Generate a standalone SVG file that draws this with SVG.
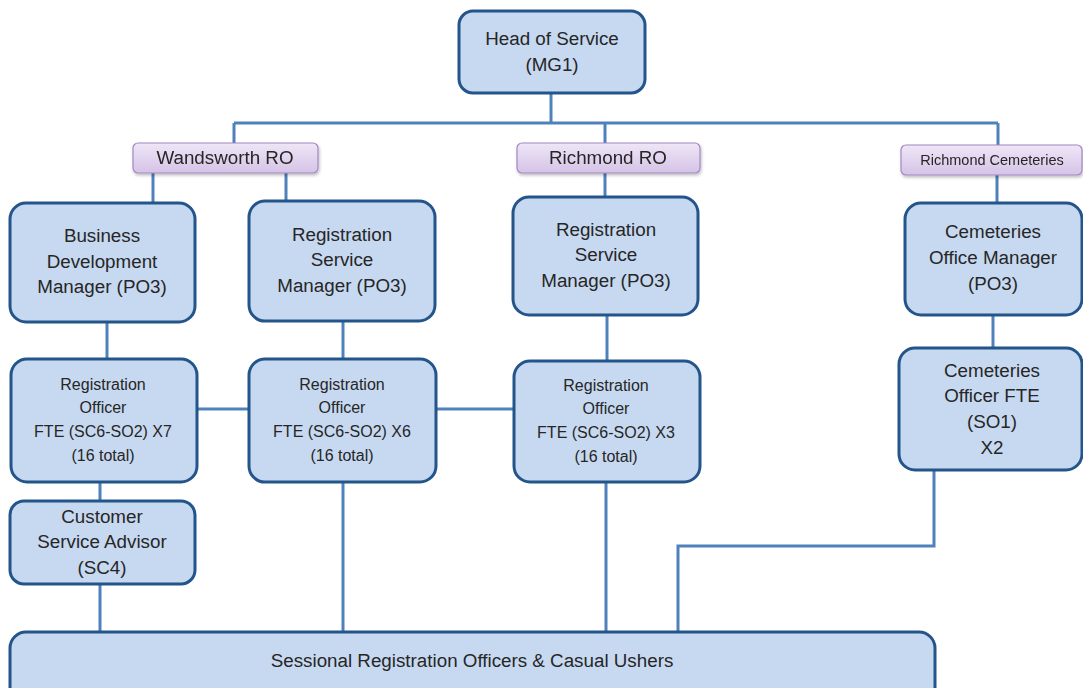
<svg xmlns="http://www.w3.org/2000/svg" width="1083" height="688" viewBox="0 0 1083 688">
<defs>
<linearGradient id="pg" x1="0" y1="0" x2="0" y2="1">
<stop offset="0" stop-color="#EFE6F7"/>
<stop offset="1" stop-color="#D5C3E6"/>
</linearGradient>
<filter id="sh" x="-10%" y="-20%" width="120%" height="160%">
<feDropShadow dx="1" dy="2" stdDeviation="1.5" flood-color="#000" flood-opacity="0.25"/>
</filter>
</defs>
<style>
.box{fill:#C6D9F1;stroke:#23548A;stroke-width:3}
.tag{fill:url(#pg);stroke:#A287C4;stroke-width:1.2}
.ln{fill:none;stroke:#4F81BD;stroke-width:3}
text{font-family:"Liberation Sans",Arial,sans-serif;fill:#262626;text-anchor:middle}
.t18{font-size:18.8px}
.t16{font-size:16px}
.t14{font-size:14.5px}
</style>
<rect width="1083" height="688" fill="#fff"/>
<g id="connectors">
<path class="ln" d="M551 93V123M234 123H998M234 123V143M605 123V143M998 123V145"/>
<path class="ln" d="M153 173V203M286 173V201M605 173V197M997 175V203"/>
<path class="ln" d="M107 322V359M343 321V359M607 315V361M993 315V348"/>
<path class="ln" d="M197 409H249M436 409H514"/>
<path class="ln" d="M100 482V501M100 584V632M343 482V632M606 482V632M934 470V546H678V632"/>
</g>
<g id="head">
<rect class="box" x="459" y="11" width="186" height="82" rx="14"/>
<text class="t18" x="552" y="45">Head of Service</text>
<text class="t18" x="552" y="71">(MG1)</text>
</g>
<g id="wandsworth-ro" filter="url(#sh)">
<rect class="tag" x="133" y="143" width="185" height="30" rx="5"/>
<text class="t18" x="225" y="164">Wandsworth RO</text>
</g>
<g id="richmond-ro" filter="url(#sh)">
<rect class="tag" x="517" y="143" width="183" height="30" rx="5"/>
<text class="t18" x="608" y="164">Richmond RO</text>
</g>
<g id="richmond-cemeteries" filter="url(#sh)">
<rect class="tag" x="901" y="145" width="181" height="30" rx="5"/>
<text class="t14" x="992" y="165">Richmond Cemeteries</text>
</g>
<g id="business-dev">
<rect class="box" x="10" y="203" width="185" height="119" rx="16"/>
<text class="t18" x="102" y="242">Business</text>
<text class="t18" x="102" y="268">Development</text>
<text class="t18" x="102" y="293">Manager (PO3)</text>
</g>
<g id="rsm-wandsworth">
<rect class="box" x="249" y="201" width="186" height="120" rx="16"/>
<text class="t18" x="342" y="241">Registration</text>
<text class="t18" x="342" y="266">Service</text>
<text class="t18" x="342" y="292">Manager (PO3)</text>
</g>
<g id="rsm-richmond">
<rect class="box" x="513" y="197" width="185" height="118" rx="16"/>
<text class="t18" x="606" y="236">Registration</text>
<text class="t18" x="606" y="261">Service</text>
<text class="t18" x="606" y="287">Manager (PO3)</text>
</g>
<g id="cem-office-manager">
<rect class="box" x="905" y="203" width="177" height="112" rx="16"/>
<text class="t18" x="993" y="238">Cemeteries</text>
<text class="t18" x="993" y="264">Office Manager</text>
<text class="t18" x="993" y="290">(PO3)</text>
</g>
<g id="ro-left">
<rect class="box" x="11" y="359" width="186" height="123" rx="16"/>
<text class="t16" x="103" y="390">Registration</text>
<text class="t16" x="103" y="413">Officer</text>
<text class="t16" x="103" y="437">FTE (SC6-SO2) X7</text>
<text class="t16" x="103" y="461">(16 total)</text>
</g>
<g id="ro-mid">
<rect class="box" x="249" y="359" width="187" height="123" rx="16"/>
<text class="t16" x="342" y="390">Registration</text>
<text class="t16" x="342" y="413">Officer</text>
<text class="t16" x="342" y="437">FTE (SC6-SO2) X6</text>
<text class="t16" x="342" y="461">(16 total)</text>
</g>
<g id="ro-right">
<rect class="box" x="514" y="361" width="186" height="121" rx="16"/>
<text class="t16" x="606" y="391">Registration</text>
<text class="t16" x="606" y="414">Officer</text>
<text class="t16" x="606" y="438">FTE (SC6-SO2) X3</text>
<text class="t16" x="606" y="462">(16 total)</text>
</g>
<g id="cem-officer">
<rect class="box" x="899" y="348" width="183" height="122" rx="16"/>
<text class="t18" x="992" y="377">Cemeteries</text>
<text class="t18" x="992" y="402">Officer FTE</text>
<text class="t18" x="992" y="428">(SO1)</text>
<text class="t18" x="992" y="454">X2</text>
</g>
<g id="customer-service">
<rect class="box" x="10" y="501" width="185" height="83" rx="14"/>
<text class="t18" x="102" y="523">Customer</text>
<text class="t18" x="102" y="548">Service Advisor</text>
<text class="t18" x="102" y="574">(SC4)</text>
</g>
<g id="sessional">
<rect class="box" x="10" y="632" width="925" height="80" rx="16"/>
<text class="t18" x="472" y="667">Sessional Registration Officers &amp; Casual Ushers</text>
</g>
</svg>
